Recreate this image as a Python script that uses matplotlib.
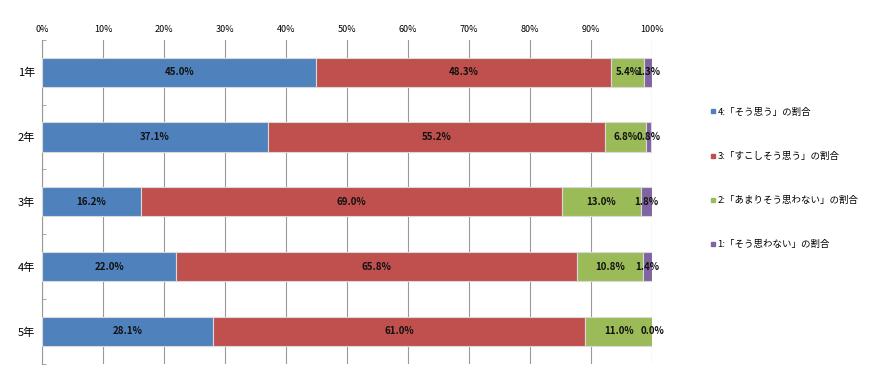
import matplotlib.pyplot as plt
from matplotlib.lines import Line2D
import numpy as np

plt.rcParams['font.family'] = ['Noto Sans CJK JP', 'DejaVu Sans']

grades = ['1年', '2年', '3年', '4年', '5年']
series = ['4:「そう思う」の割合', '3:「すこしそう思う」の割合',
          '2:「あまりそう思わない」の割合', '1:「そう思わない」の割合']
v4 = [45.0, 37.1, 16.2, 22.0, 28.1]
v3 = [48.3, 55.2, 69.0, 65.8, 61.0]
v2 = [5.4, 6.8, 13.0, 10.8, 11.0]
v1 = [1.3, 0.8, 1.8, 1.4, 0.0]
colors = ['#4F81BD', '#C0504D', '#9BBB59', '#8064A2']
xticks = [0, 10, 20, 30, 40, 50, 60, 70, 80, 90, 100]

fig = plt.figure(figsize=(8.7, 3.83), dpi=100)
ax = fig.add_axes([0.0483, 0.050, 0.701, 0.846])

y = np.arange(len(grades))
left = np.zeros(len(grades))
for vals, c, name in zip([v4, v3, v2, v1], colors, series):
    vals = np.array(vals)
    ax.barh(y, vals, left=left, height=0.45, color=c,
            edgecolor='#d9d9d9', linewidth=0.8, label=name, zorder=3)
    for yi, l, v in zip(y, left, vals):
        ax.text(l + v / 2, yi, f'{v:.1f}%', ha='center', va='center',
                fontsize=7, fontweight='bold', color='#111111', zorder=4,
                family=['Liberation Sans Narrow', 'Noto Sans CJK JP'])
    left += vals

ax.set_xlim(0, 100)
ax.set_ylim(len(grades) - 0.5, -0.5)
ax.set_xticks(xticks)
ax.set_xticklabels([f'{t}%' for t in xticks], fontsize=6.5)
ax.xaxis.tick_top()
ax.tick_params(axis='x', length=0, pad=4)
ax.set_yticks(y)
ax.set_yticklabels(grades, fontsize=8)
ax.tick_params(axis='y', which='major', length=0, pad=5)
ax.set_yticks(np.arange(len(grades) + 1) - 0.5, minor=True)
ax.tick_params(axis='y', which='minor', length=3, direction='in', color='#999999')
ax.grid(axis='x', color='#999999', linewidth=0.8, zorder=0)
for s in ['top', 'right', 'bottom']:
    ax.spines[s].set_visible(False)
ax.spines['left'].set_color('#999999')

handles = [Line2D([], [], marker='s', linestyle='', markersize=3.5,
                  color=c) for c in colors]
fig.legend(handles, series, loc='upper left', bbox_to_anchor=(0.805, 0.741),
           frameon=False, fontsize=6.8, labelspacing=3.72, handletextpad=0.1,
           handlelength=0.8)

fig.savefig('out.png', dpi=100)
